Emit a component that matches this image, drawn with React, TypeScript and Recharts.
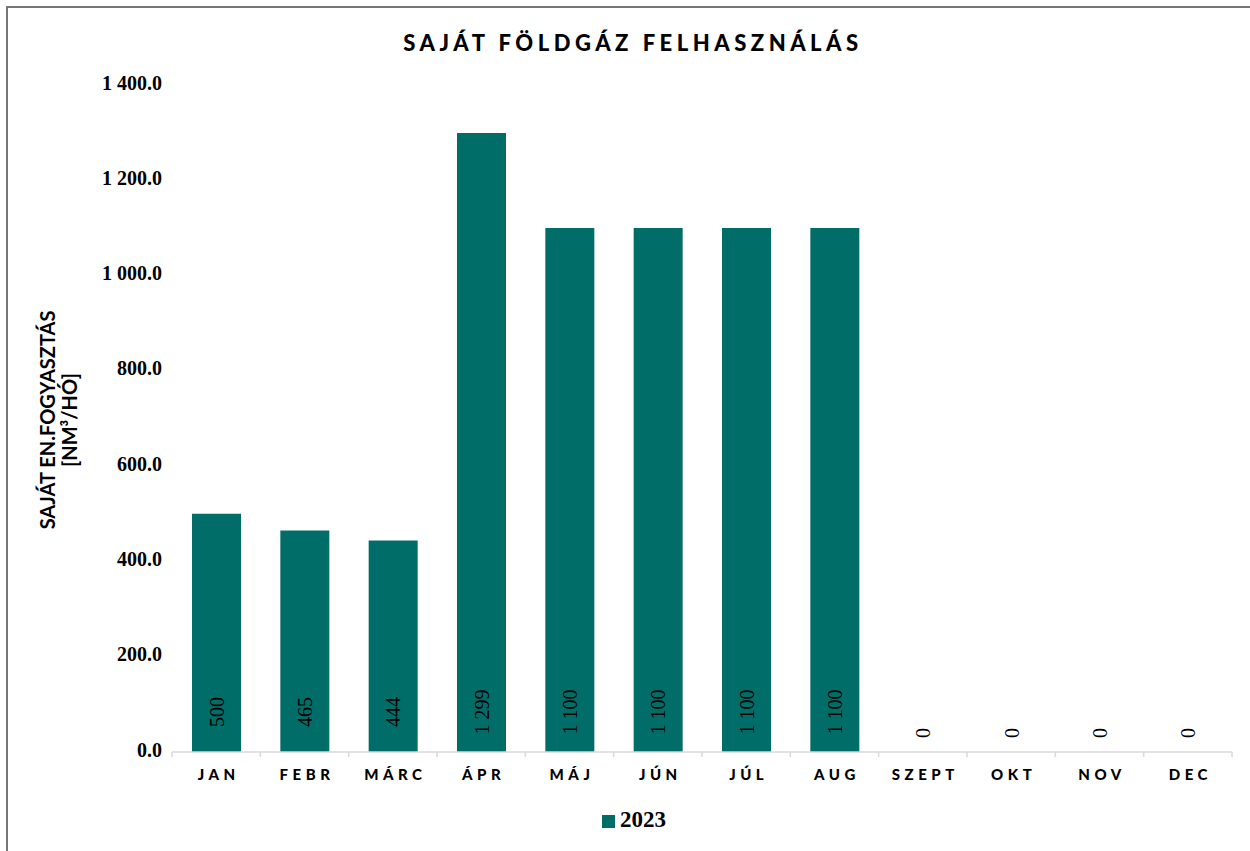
import { BarChart, Bar, XAxis, YAxis, Rectangle } from 'recharts';

const months = ['JAN', 'FEBR', 'MÁRC', 'ÁPR', 'MÁJ', 'JÚN', 'JÚL', 'AUG', 'SZEPT', 'OKT', 'NOV', 'DEC'];
const values2023 = [500, 465, 444, 1299, 1100, 1100, 1100, 1100, 0, 0, 0, 0];
const yTicks = [0, 200, 400, 600, 800, 1000, 1200, 1400];

const data = months.map((m, i) => ({ month: m, v2023: values2023[i] }));

const BAR = '#006d68';
const SANS = 'Lato, "Open Sans", sans-serif';
const SERIF = '"Liberation Serif", "Times New Roman", serif';

// 1400 -> "1 400.0"
const fmtAxis = (v: number) => {
    const [int, dec] = v.toFixed(1).split('.');
    return int.replace(/\B(?=(\d{3})+(?!\d))/g, ' ') + '.' + dec;
};
const fmtLabel = (v: number) => String(v).replace(/\B(?=(\d{3})+(?!\d))/g, ' ');

const YTick = (props: any) => {
    const { x, y, payload } = props;
    return (
        <text x={x - 10} y={y} textAnchor="end" dominantBaseline="middle" fontFamily={SERIF} fontWeight={700} fontSize={20} fill="#000">
            {fmtAxis(payload.value)}
        </text>
    );
};

const XTick = (props: any) => {
    const { x, y, payload, index } = props;
    const half = payload.offset || 44;
    return (
        <g>
            <line x1={x - half} y1={y} x2={x - half} y2={y + 5} stroke="#d9d9d9" strokeWidth={1.5} />
            {index === months.length - 1 && (
                <line x1={x + half} y1={y} x2={x + half} y2={y + 5} stroke="#d9d9d9" strokeWidth={1.5} />
            )}
            <text x={x + 2.5} y={y + 24} textAnchor="middle" dominantBaseline="middle" fontFamily={SANS} fontWeight={900} fontSize={15} letterSpacing={4.5} fill="#000">
                {payload.value}
            </text>
        </g>
    );
};

// bar with its value written upright along the base
const BarWithLabel = (props: any) => {
    const { x, y, width, height, payload } = props;
    const value = payload.v2023;
    const cx = x + width / 2;
    const base = y + height;
    const cy = value > 0 ? base - 40 : base - 19;
    return (
        <g>
            {height > 0 && <Rectangle x={x} y={y} width={width} height={height} fill={BAR} />}
            <text x={cx} y={cy} transform={`rotate(-90 ${cx} ${cy})`} textAnchor="middle" dominantBaseline="central" fontFamily={SERIF} fontSize={20} fill="#000">
                {fmtLabel(value)}
            </text>
        </g>
    );
};

export default function App() {
    return (
        <div
            style={{
                position: 'absolute',
                left: 6,
                top: 6,
                width: 1250,
                height: 851,
                borderLeft: '2px solid #767676',
                borderTop: '2px solid #767676',
                background: '#fff',
            }}
        >
            <BarChart width={1242} height={843} data={data} margin={{ top: 77, right: 18, bottom: 69, left: 0 }}>
                <XAxis
                    dataKey="month"
                    height={30}
                    axisLine={{ stroke: '#d9d9d9', strokeWidth: 1.5 }}
                    tickLine={false}
                    tickSize={0}
                    tickMargin={0}
                    interval={0}
                    tick={<XTick />}
                />
                <YAxis
                    width={164}
                    domain={[0, 1400]}
                    ticks={yTicks}
                    axisLine={false}
                    tickLine={false}
                    tickSize={0}
                    tickMargin={0}
                    tick={<YTick />}
                />
                <Bar dataKey="v2023" fill={BAR} barSize={49} minPointSize={0} shape={<BarWithLabel />} isAnimationActive={false} />
            </BarChart>
            <svg width={1242} height={843} style={{ position: 'absolute', left: 0, top: 0, pointerEvents: 'none' }}>
                <text x={625} y={37} textAnchor="middle" dominantBaseline="middle" fontFamily={SANS} fontWeight={900} fontSize={22} letterSpacing={4.5} fill="#000">
                    SAJÁT FÖLDGÁZ FELHASZNÁLÁS
                </text>
                <g transform="translate(42 412) rotate(-90)">
                    <text x={0} y={0} textAnchor="middle" dominantBaseline="middle" fontFamily={SANS} fontWeight={700} fontSize={20} fill="#000">
                        SAJÁT EN.FOGYASZTÁS
                    </text>
                    <text x={0} y={22} textAnchor="middle" dominantBaseline="middle" fontFamily={SANS} fontWeight={700} fontSize={20} fill="#000">
                        [NM³/HÓ]
                    </text>
                </g>
                <rect x={594} y={807} width={13} height={13} fill={BAR} />
                <text x={612} y={814} dominantBaseline="middle" fontFamily={SERIF} fontWeight={700} fontSize={23} fill="#000">
                    2023
                </text>
            </svg>
        </div>
    );
}
